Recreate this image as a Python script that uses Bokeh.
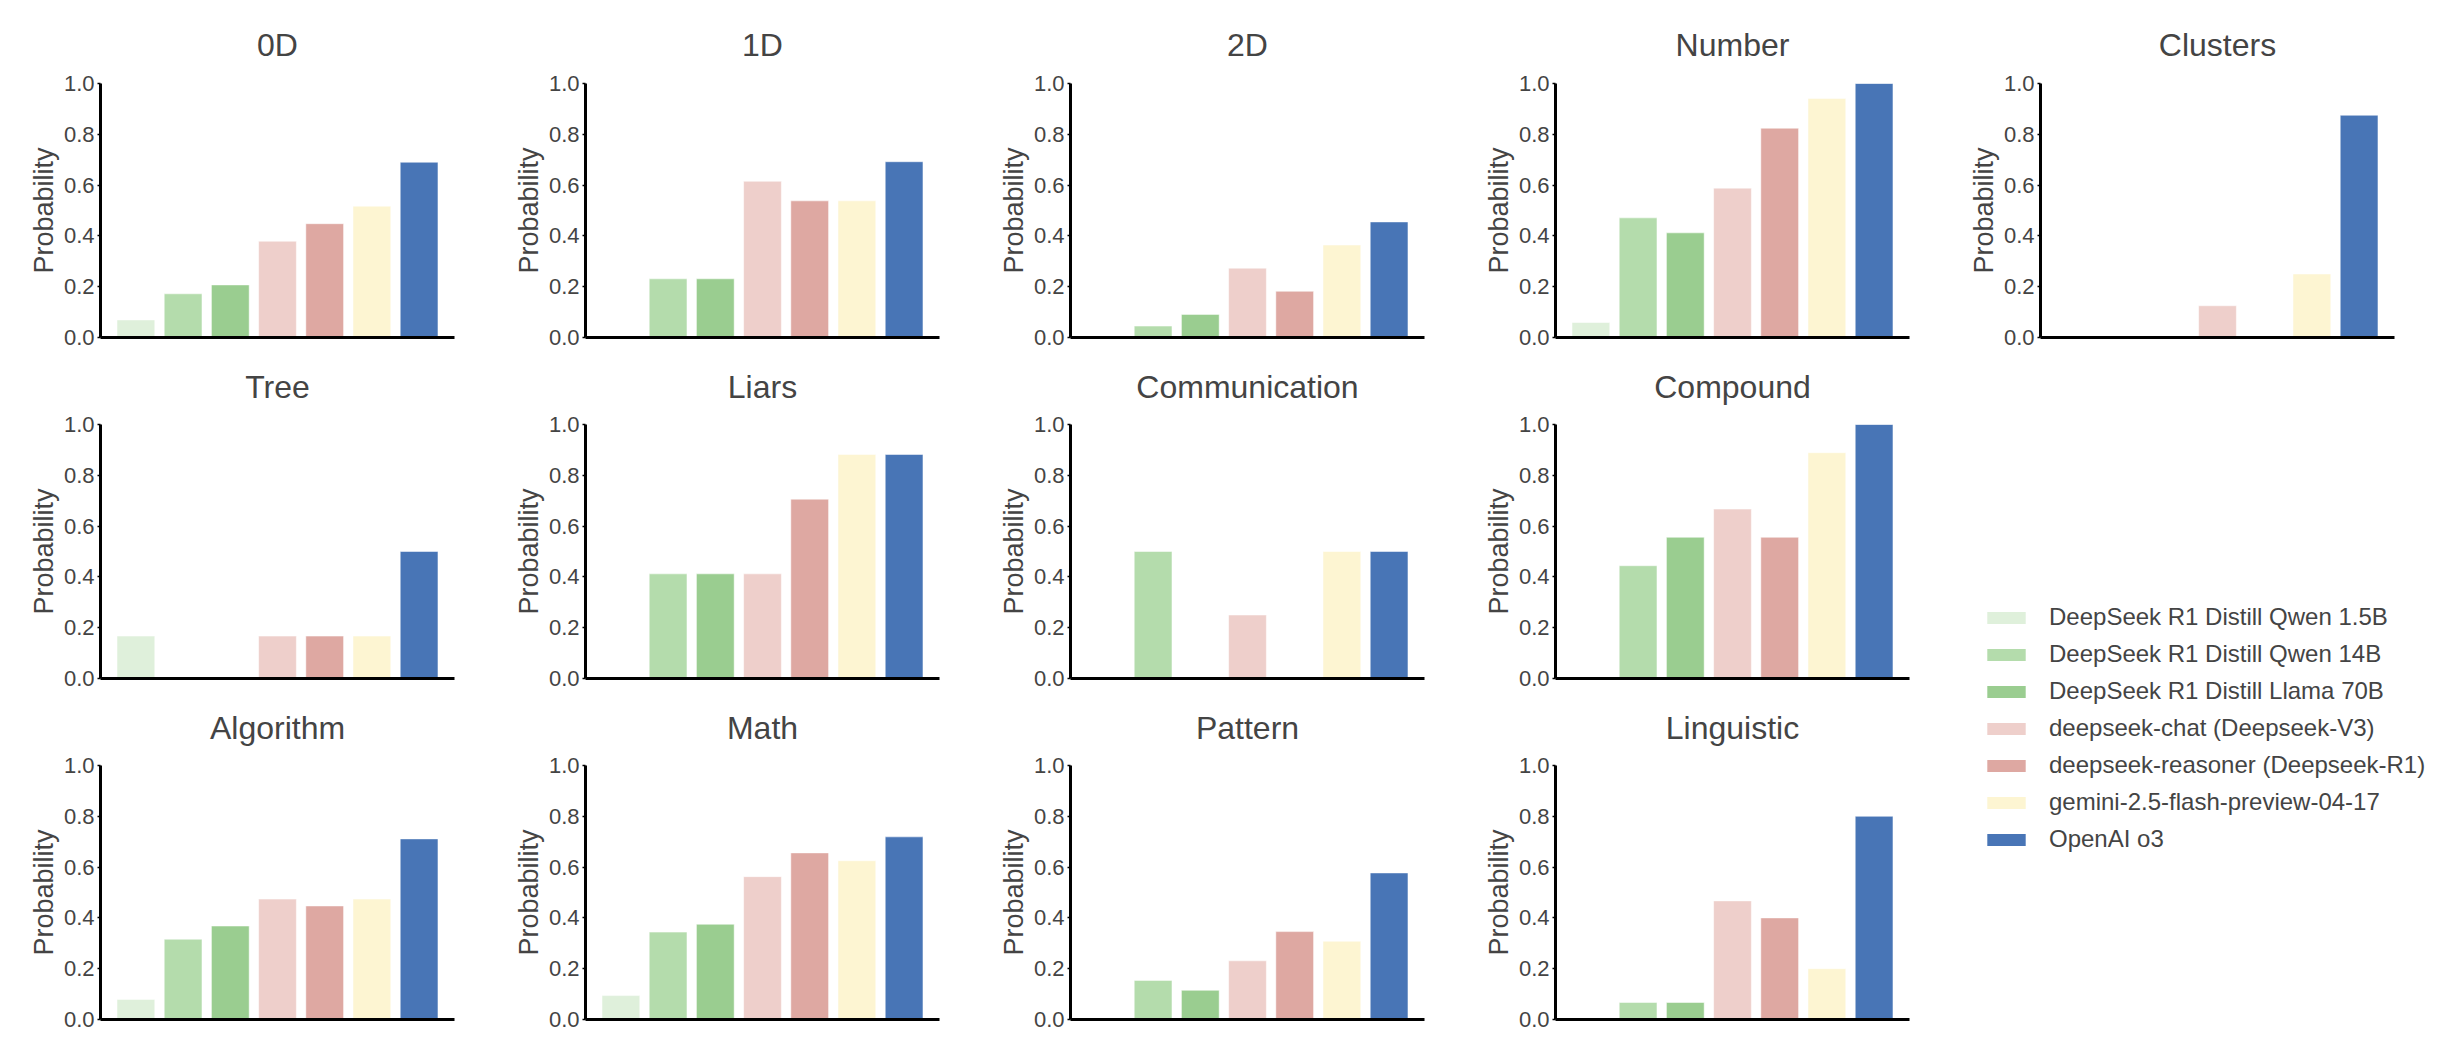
from bokeh.plotting import figure
from bokeh.layouts import column, row
from bokeh.models import (Range1d, FixedTicker, PrintfTickFormatter, Legend, LegendItem,
                          ColumnDataSource)
from bokeh.embed import file_html
from bokeh.resources import INLINE

FONT = "Liberation Sans"

tasks = ["0D", "1D", "2D", "Number", "Clusters", "Tree", "Liars", "Communication",
         "Compound", "Algorithm", "Math", "Pattern", "Linguistic"]
models = ["DeepSeek R1 Distill Qwen 1.5B", "DeepSeek R1 Distill Qwen 14B",
          "DeepSeek R1 Distill Llama 70B", "deepseek-chat (Deepseek-V3)",
          "deepseek-reasoner (Deepseek-R1)", "gemini-2.5-flash-preview-04-17", "OpenAI o3"]
colors = ["#dff0db", "#b4dcac", "#9acd90", "#eecfcb", "#dea8a2", "#fdf5d2", "#4875b6"]

qwen15 = [0.069, 0.0, 0.0, 0.059, 0.0, 0.167, 0.0, 0.0, 0.0, 0.079, 0.094, 0.0, 0.0]
qwen14 = [0.172, 0.231, 0.045, 0.471, 0.0, 0.0, 0.412, 0.5, 0.444, 0.316, 0.344, 0.154, 0.067]
llama70 = [0.207, 0.231, 0.091, 0.412, 0.0, 0.0, 0.412, 0.0, 0.556, 0.368, 0.375, 0.115, 0.067]
ds_chat = [0.379, 0.615, 0.273, 0.588, 0.125, 0.167, 0.412, 0.25, 0.667, 0.474, 0.5625, 0.231, 0.467]
ds_reasoner = [0.448, 0.538, 0.182, 0.824, 0.0, 0.167, 0.706, 0.0, 0.556, 0.447, 0.656, 0.346, 0.4]
gemini = [0.517, 0.538, 0.364, 0.941, 0.25, 0.167, 0.882, 0.5, 0.889, 0.474, 0.625, 0.308, 0.2]
o3 = [0.690, 0.692, 0.455, 1.0, 0.875, 0.5, 0.882, 0.5, 1.0, 0.711, 0.719, 0.577, 0.8]
series = [qwen15, qwen14, llama70, ds_chat, ds_reasoner, gemini, o3]
y_ticks = [0.0, 0.2, 0.4, 0.6, 0.8, 1.0]

W = 485
FRAME_H = 254
BOTTOM = 12
ROW_TOP = [83, 75, 75]
ROW_STANDOFF = [38, 36, 36]


def panel(ti, r):
    top_border = ROW_TOP[r]
    p = figure(width=W, height=top_border + FRAME_H + BOTTOM, output_backend="svg",
               toolbar_location=None,
               x_range=Range1d(-0.75, 6.75), y_range=Range1d(0, 1.0),
               min_border_left=100, min_border_right=31,
               min_border_top=top_border, min_border_bottom=BOTTOM)
    src = ColumnDataSource(dict(x=list(range(len(models))),
                                top=[s[ti] for s in series], color=colors))
    p.vbar(x="x", top="top", width=0.8, bottom=0, source=src, fill_color="color",
           line_color="white", line_alpha=0.5, line_width=1)
    p.title.text = tasks[ti]
    p.title.align = "center"
    p.title.vertical_align = "top"
    p.title.text_font = FONT
    p.title.text_font_size = "32px"
    p.title.text_font_style = "normal"
    p.title.standoff = ROW_STANDOFF[r]
    p.outline_line_color = None
    p.grid.visible = False
    p.background_fill_color = None
    p.border_fill_color = None
    ya = p.yaxis[0]
    ya.ticker = FixedTicker(ticks=y_ticks)
    ya.formatter = PrintfTickFormatter(format="%.1f")
    ya.axis_label = "Probability"
    ya.axis_label_text_font = FONT
    ya.axis_label_text_font_size = "27px"
    ya.axis_label_text_font_style = "normal"
    ya.axis_label_standoff = 2
    ya.major_label_text_font = FONT
    ya.major_label_text_font_size = "22px"
    ya.major_label_standoff = 3
    ya.axis_line_width = 3
    ya.major_tick_out = 3
    ya.major_tick_in = 0
    ya.major_tick_line_width = 1.5
    ya.minor_tick_line_color = None
    xa = p.xaxis[0]
    xa.ticker = FixedTicker(ticks=[])
    xa.axis_line_width = 3
    xa.major_tick_out = 0
    xa.major_tick_in = 0
    xa.minor_tick_line_color = None
    xa.major_label_standoff = 0
    return p


figs = []
for i in range(len(tasks)):
    r = 0 if i < 5 else (1 if i < 9 else 2)
    figs.append(panel(i, r))

# legend figure
LH = ROW_TOP[1] + ROW_TOP[2] + 2 * (FRAME_H + BOTTOM)
lf = figure(width=W, height=LH, output_backend="svg", toolbar_location=None,
            x_range=Range1d(0, 1), y_range=Range1d(0, 1),
            min_border_left=0, min_border_right=0, min_border_top=0, min_border_bottom=0)
lf.axis.visible = False
lf.grid.visible = False
lf.outline_line_color = None
items = []
for m, c in zip(models, colors):
    rr = lf.vbar(x=[-10], top=[-5], bottom=[-6], width=0.5, fill_color=c, line_color=None)
    items.append(LegendItem(label=m, renderers=[rr]))
leg = Legend(items=items, location=(42, 178), glyph_width=48, glyph_height=15,
             label_height=28, spacing=9, label_standoff=19, padding=0, margin=0,
             border_line_color=None, background_fill_alpha=0,
             label_text_font=FONT, label_text_font_size="24px")
lf.add_layout(leg)

layout = column(row(*figs[0:5]),
                row(column(row(*figs[5:9]), row(*figs[9:13])), lf))

open("out.html", "w").write(file_html(layout, INLINE))
